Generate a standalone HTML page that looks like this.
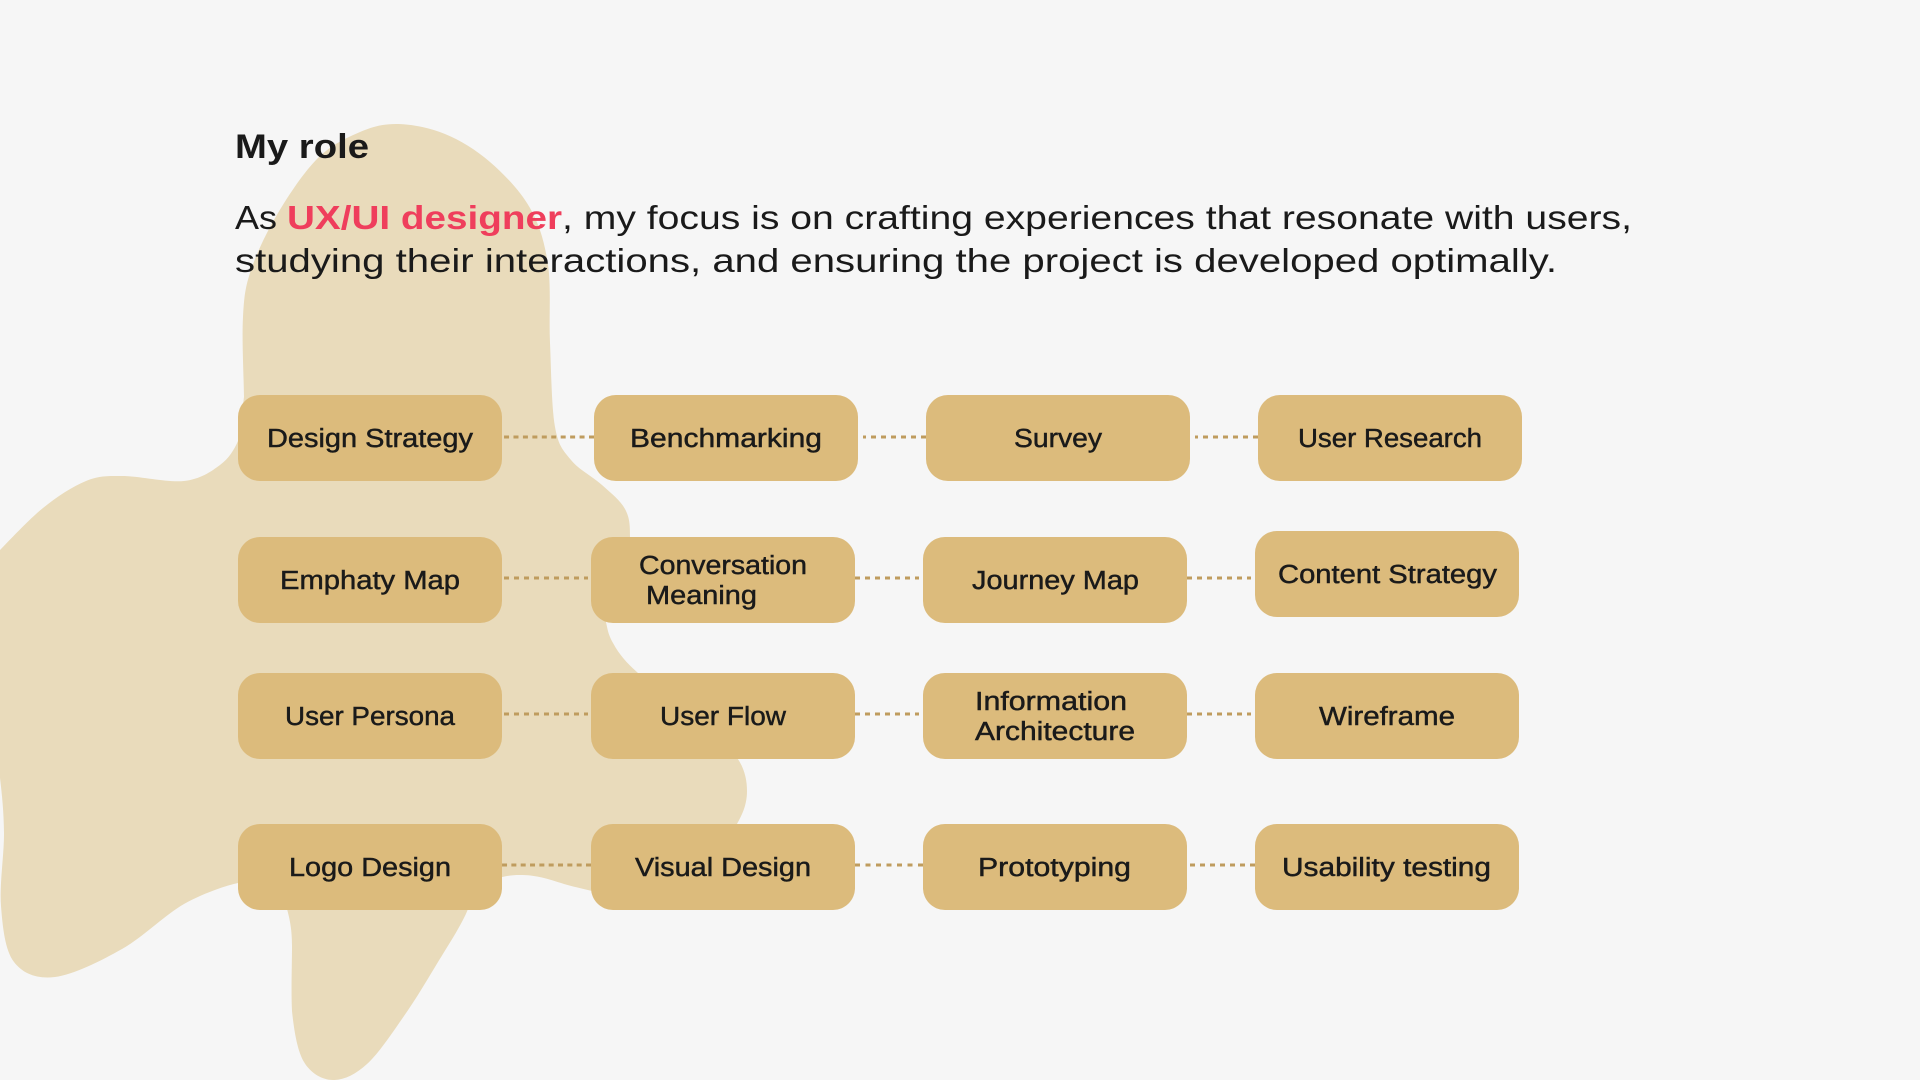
<!DOCTYPE html>
<html>
<head>
<meta charset="utf-8">
<title>My role</title>
<style>
html,body{margin:0;padding:0;width:1920px;height:1080px;overflow:hidden;background:#f6f6f6}
svg{display:block}
text{font-family:"Liberation Sans",sans-serif;fill:#1a1a1a}
.l{font-size:25.5px;stroke:#1a1a1a;stroke-width:.45px}
.p{font-size:33px}
.d{stroke:#bf9c5e;stroke-width:3;stroke-dasharray:5 5;fill:none}
rect{fill:#dcbb7c}
</style>
</head>
<body>
<svg width="1920" height="1080" viewBox="0 0 1920 1080" xmlns="http://www.w3.org/2000/svg">
<rect x="0" y="0" width="1920" height="1080" style="fill:#f6f6f6"/>
<path style="fill:#e9dbbb" d="M243 317C244.2 295.8 245.2 287.3 251 270C256.8 252.7 266.8 231.7 278 213C289.2 194.3 304.3 171.5 318 158C331.7 144.5 346.7 137.7 360 132C373.3 126.3 383.8 123.7 398 124C412.2 124.3 429.7 127.7 445 134C460.3 140.3 475.8 149.7 490 162C504.2 174.3 520.3 190.8 530 208C539.7 225.2 544.7 242.5 548 265C551.3 287.5 548.8 316 550 343C551.2 370 551.5 407.5 555 427C558.5 446.5 563.2 450.3 571 460C578.8 469.7 593 476.8 602 485C611 493.2 620.3 500.3 625 509C629.7 517.7 630 525 630 537L606 622C608 632 609 636 613 643C620 656 628 664 638 673L725 745C742 759 747 775 747 791C747 805 742 815 737 824L592 891C580 888 570 886 561 883C545 878 535 875 520 875C512 875 506 876 502 877L468 909C462.3 924 445.7 949.2 435 967C424.3 984.8 415.3 999.8 404 1016C392.7 1032.2 378.8 1053.3 367 1064C355.2 1074.7 343.5 1080.3 333 1080C322.5 1080 310.8 1073.5 304 1062C297.2 1050.5 294 1030.3 292 1011C291 992 292 965 292 946C292 930 290 920 287 909L238 883C228 885 203.3 893 184 904C164.7 915 143.5 936.8 122 949C100.5 961.2 73 974.8 55 977C37 979.2 23 973.8 14 962C5 950.2 2.7 927.5 1 906C-0.7 884.5 4.2 854.3 4 833C3.8 811.7 2 795 0 778L0 550C8 542 28.7 519.5 43 508C57.3 496.5 72.8 486.3 86 481C99.2 475.7 105.7 476 122 476C138.3 476 167.7 482.8 184 481C200.3 479.2 211 471.7 220 465C229 458.3 234 450 238 441L244 397C243.5 370 241.8 338.2 243 317Z"/>

<text x="235" y="158" font-size="34" font-weight="700" textLength="134" lengthAdjust="spacingAndGlyphs">My role</text>
<text class="p" x="235" y="229" textLength="42" lengthAdjust="spacingAndGlyphs">As</text>
<text class="p" x="287" y="229" font-weight="700" textLength="275" lengthAdjust="spacingAndGlyphs" style="fill:#ef3e5c">UX/UI designer</text>
<text class="p" x="562" y="229" textLength="1070" lengthAdjust="spacingAndGlyphs">, my focus is on crafting experiences that resonate with users,</text>
<text class="p" x="235" y="272" textLength="1322" lengthAdjust="spacingAndGlyphs">studying their interactions, and ensuring the project is developed optimally.</text>

<g>
<line class="d" style="stroke-dasharray:5 4.44" x1="594" y1="437" x2="504" y2="437"/>
<line class="d" x1="926" y1="437" x2="863" y2="437"/>
<line class="d" x1="1258" y1="437" x2="1195" y2="437"/>
<line class="d" x1="504" y1="578" x2="588" y2="578"/>
<line class="d" x1="855" y1="578" x2="919" y2="578"/>
<line class="d" x1="1187" y1="578" x2="1251" y2="578"/>
<line class="d" x1="504" y1="714" x2="588" y2="714"/>
<line class="d" x1="855" y1="714" x2="919" y2="714"/>
<line class="d" x1="1187" y1="714" x2="1251" y2="714"/>
<line class="d" style="stroke-dasharray:5 4.33" x1="591" y1="865" x2="502" y2="865"/>
<line class="d" style="stroke-dasharray:5 5.5" x1="923" y1="865" x2="855" y2="865"/>
<line class="d" x1="1255" y1="865" x2="1190" y2="865"/>
</g>

<rect x="238" y="395" width="264" height="86" rx="22"/>
<rect x="594" y="395" width="264" height="86" rx="22"/>
<rect x="926" y="395" width="264" height="86" rx="22"/>
<rect x="1258" y="395" width="264" height="86" rx="22"/>
<rect x="238" y="537" width="264" height="86" rx="22"/>
<rect x="591" y="537" width="264" height="86" rx="22"/>
<rect x="923" y="537" width="264" height="86" rx="22"/>
<rect x="1255" y="531" width="264" height="86" rx="22"/>
<rect x="238" y="673" width="264" height="86" rx="22"/>
<rect x="591" y="673" width="264" height="86" rx="22"/>
<rect x="923" y="673" width="264" height="86" rx="22"/>
<rect x="1255" y="673" width="264" height="86" rx="22"/>
<rect x="238" y="824" width="264" height="86" rx="22"/>
<rect x="591" y="824" width="264" height="86" rx="22"/>
<rect x="923" y="824" width="264" height="86" rx="22"/>
<rect x="1255" y="824" width="264" height="86" rx="22"/>

<text class="l" x="267" y="447" textLength="206" lengthAdjust="spacingAndGlyphs">Design Strategy</text>
<text class="l" x="630" y="447" textLength="192" lengthAdjust="spacingAndGlyphs">Benchmarking</text>
<text class="l" x="1014" y="447" textLength="88" lengthAdjust="spacingAndGlyphs">Survey</text>
<text class="l" x="1298" y="447" textLength="184" lengthAdjust="spacingAndGlyphs">User Research</text>
<text class="l" x="280" y="589" textLength="180" lengthAdjust="spacingAndGlyphs">Emphaty Map</text>
<text class="l" x="639" y="574" textLength="168" lengthAdjust="spacingAndGlyphs">Conversation</text>
<text class="l" x="646" y="604" textLength="111" lengthAdjust="spacingAndGlyphs">Meaning</text>
<text class="l" x="972" y="589" textLength="167" lengthAdjust="spacingAndGlyphs">Journey Map</text>
<text class="l" x="1278" y="583" textLength="219" lengthAdjust="spacingAndGlyphs">Content Strategy</text>
<text class="l" x="285" y="725" textLength="170" lengthAdjust="spacingAndGlyphs">User Persona</text>
<text class="l" x="660" y="725" textLength="126" lengthAdjust="spacingAndGlyphs">User Flow</text>
<text class="l" x="975" y="710" textLength="152" lengthAdjust="spacingAndGlyphs">Information</text>
<text class="l" x="975" y="740" textLength="160" lengthAdjust="spacingAndGlyphs">Architecture</text>
<text class="l" x="1319" y="725" textLength="136" lengthAdjust="spacingAndGlyphs">Wireframe</text>
<text class="l" x="289" y="876" textLength="162" lengthAdjust="spacingAndGlyphs">Logo Design</text>
<text class="l" x="635" y="876" textLength="176" lengthAdjust="spacingAndGlyphs">Visual Design</text>
<text class="l" x="978" y="876" textLength="153" lengthAdjust="spacingAndGlyphs">Prototyping</text>
<text class="l" x="1282" y="876" textLength="209" lengthAdjust="spacingAndGlyphs">Usability testing</text>
</svg>
</body>
</html>
